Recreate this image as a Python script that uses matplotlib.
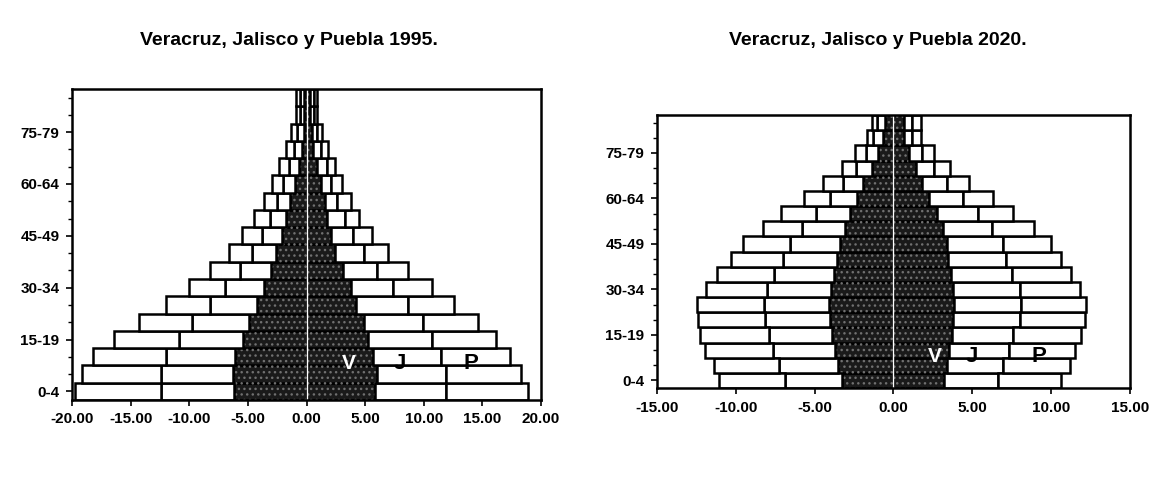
import matplotlib.pyplot as plt
import numpy as np

plt.rcParams['font.family'] = ['Liberation Sans', 'DejaVu Sans']

# grupos de edad (18 grupos quinquenales)
edades = ['0-4', '5-9', '10-14', '15-19', '20-24', '25-29', '30-34', '35-39', '40-44',
          '45-49', '50-54', '55-59', '60-64', '65-69', '70-74', '75-79', '80-84', '85+']
etiquetas_y = ['0-4', '15-19', '30-34', '45-49', '60-64', '75-79']

# 1995, porcentaje de la poblacion de cada estado (hombres a la izquierda)
ver95_h = [6.19, 6.28, 6.08, 5.44, 4.87, 4.18, 3.61, 3.05, 2.58, 2.08, 1.74, 1.37, 0.95, 0.67, 0.39, 0.25, 0.20, 0.20]
jal95_h = [6.25, 6.16, 5.94, 5.46, 4.90, 4.06, 3.36, 2.61, 2.07, 1.73, 1.37, 1.13, 1.04, 0.84, 0.70, 0.57, 0.33, 0.33]
pue95_h = [7.28, 6.72, 6.16, 5.55, 4.49, 3.78, 3.09, 2.58, 1.96, 1.68, 1.34, 1.11, 0.98, 0.84, 0.65, 0.47, 0.34, 0.34]
ver95_m = [5.82, 5.99, 5.71, 5.21, 4.87, 4.23, 3.76, 3.11, 2.46, 2.08, 1.79, 1.57, 1.24, 0.87, 0.59, 0.45, 0.30, 0.30]
jal95_m = [6.05, 5.88, 5.80, 5.46, 5.05, 4.40, 3.63, 2.88, 2.41, 1.87, 1.46, 1.06, 0.89, 0.84, 0.65, 0.42, 0.30, 0.30]
pue95_m = [6.98, 6.42, 5.83, 5.46, 4.68, 3.95, 3.28, 2.67, 2.10, 1.60, 1.20, 1.13, 0.92, 0.70, 0.61, 0.42, 0.27, 0.27]

# 2020
ver20_h = [3.24, 3.53, 3.70, 3.87, 4.02, 4.08, 3.96, 3.75, 3.59, 3.39, 3.07, 2.75, 2.33, 1.91, 1.38, 0.96, 0.65, 0.54]
jal20_h = [3.63, 3.70, 3.91, 4.05, 4.11, 4.16, 4.07, 3.81, 3.42, 3.20, 2.74, 2.17, 1.69, 1.27, 0.99, 0.80, 0.63, 0.52]
pue20_h = [4.17, 4.18, 4.36, 4.33, 4.26, 4.22, 3.86, 3.63, 3.27, 2.98, 2.49, 2.20, 1.63, 1.26, 0.91, 0.68, 0.42, 0.32]
ver20_m = [3.22, 3.37, 3.51, 3.68, 3.78, 3.85, 3.78, 3.64, 3.47, 3.37, 3.15, 2.73, 2.27, 1.82, 1.41, 0.98, 0.68, 0.68]
jal20_m = [3.41, 3.58, 3.82, 3.90, 4.23, 4.26, 4.23, 3.90, 3.69, 3.58, 3.07, 2.64, 2.15, 1.55, 1.17, 0.80, 0.47, 0.47]
pue20_m = [4.02, 4.22, 4.20, 4.33, 4.11, 4.12, 3.79, 3.74, 3.44, 3.06, 2.69, 2.21, 1.90, 1.41, 1.00, 0.80, 0.59, 0.59]

fig = plt.figure(figsize=(11.54, 4.97), dpi=100)
ax1 = fig.add_axes([0.0624, 0.1952, 0.4064, 0.6258])
ax2 = fig.add_axes([0.5693, 0.2193, 0.4099, 0.5493])


def piramide(ax, vh, jh, ph, vm, jm, pm, lim, paso, pos_txt):
    y = np.arange(len(edades))
    vh, jh, ph = np.array(vh), np.array(jh), np.array(ph)
    vm, jm, pm = np.array(vm), np.array(jm), np.array(pm)
    kw = dict(height=1.0, edgecolor='black', linewidth=1.8)
    # Veracruz (sombreado oscuro)
    ax.barh(y, -vh, color='#1a1a1a', **kw)
    ax.barh(y, vm, color='#1a1a1a', **kw)
    ax.barh(y, -vh, height=1.0, color='none', edgecolor='#707070', hatch='...', linewidth=0)
    ax.barh(y, vm, height=1.0, color='none', edgecolor='#707070', hatch='...', linewidth=0)
    ax.axvline(0, color='white', lw=1.0)
    # Jalisco y Puebla
    ax.barh(y, -jh, left=-vh, color='white', **kw)
    ax.barh(y, jm, left=vm, color='white', **kw)
    ax.barh(y, -ph, left=-(vh + jh), color='white', **kw)
    ax.barh(y, pm, left=vm + jm, color='white', **kw)

    ax.set_xlim(-lim, lim)
    ax.set_ylim(-0.5, len(edades) - 0.5)
    xt = np.arange(-lim, lim + 0.1, paso)
    ax.set_xticks(xt)
    ax.set_xticklabels(['%.2f' % v for v in xt], fontsize=11, fontweight='bold')
    ax.set_yticks([0, 3, 6, 9, 12, 15])
    ax.set_yticklabels(etiquetas_y, fontsize=11, fontweight='bold')
    ax.set_yticks([i for i in y if i % 3 != 0], minor=True)
    ax.tick_params(axis='both', direction='out', length=4, width=1.2, pad=5)
    ax.tick_params(axis='y', which='minor', direction='out', length=3, width=1)
    for s in ax.spines.values():
        s.set_linewidth(1.8)

    xv, xj, xp, yt = pos_txt
    ax.text(xv, yt, 'V', color='white', fontsize=15, fontweight='bold', ha='center', va='center')
    ax.text(xj, yt, 'J', color='black', fontsize=16, fontweight='bold', ha='center', va='center')
    ax.text(xp, yt, 'P', color='black', fontsize=16, fontweight='bold', ha='center', va='center')


piramide(ax1, ver95_h, jal95_h, pue95_h, ver95_m, jal95_m, pue95_m, 20, 5, (3.6, 8.0, 14.0, 1.6))
piramide(ax2, ver20_h, jal20_h, pue20_h, ver20_m, jal20_m, pue20_m, 15, 5, (2.6, 5.0, 9.2, 1.6))

fig.text(0.250, 0.918, 'Veracruz, Jalisco y Puebla 1995.', ha='center', va='center',
         fontsize=14, fontweight='bold')
fig.text(0.761, 0.918, 'Veracruz, Jalisco y Puebla 2020.', ha='center', va='center',
         fontsize=14, fontweight='bold')

fig.savefig('out.png', dpi=100)
